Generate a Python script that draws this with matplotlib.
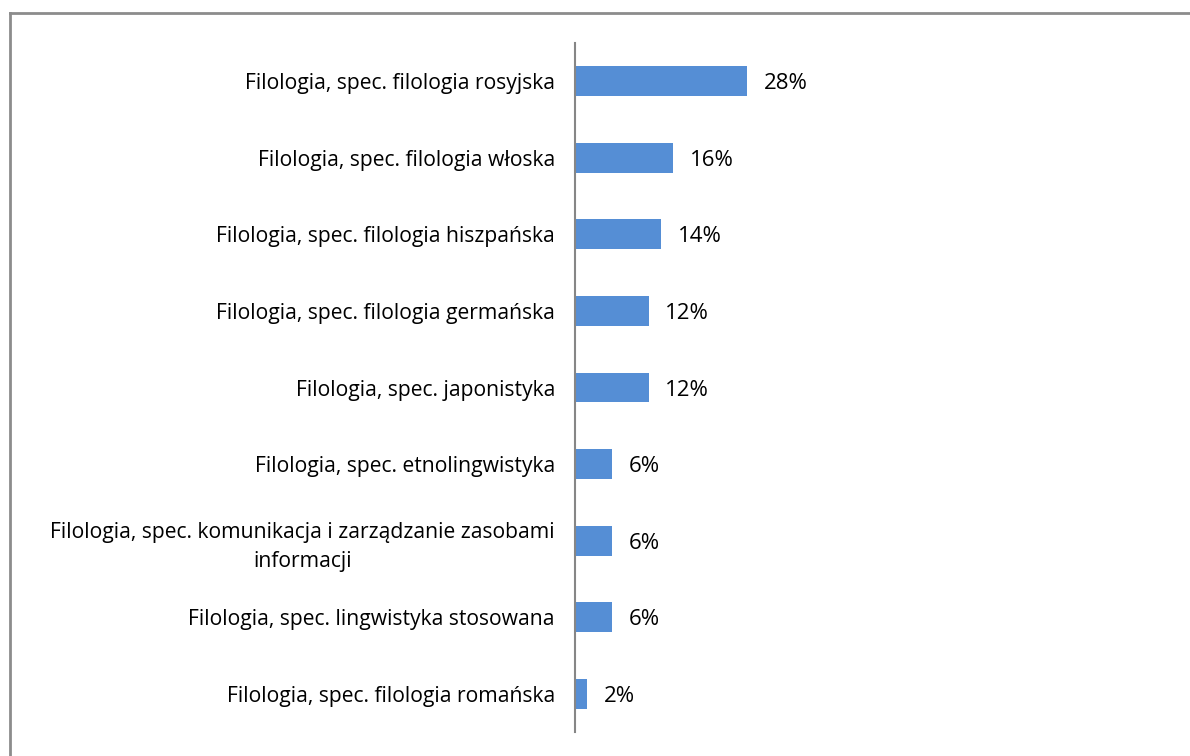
import matplotlib
matplotlib.use("Agg")
import matplotlib.pyplot as plt
from matplotlib.lines import Line2D

categories = [
    "Filologia, spec. filologia rosyjska",
    "Filologia, spec. filologia włoska",
    "Filologia, spec. filologia hiszpańska",
    "Filologia, spec. filologia germańska",
    "Filologia, spec. japonistyka",
    "Filologia, spec. etnolingwistyka",
    "Filologia, spec. komunikacja i zarządzanie zasobami\ninformacji",
    "Filologia, spec. lingwistyka stosowana",
    "Filologia, spec. filologia romańska",
]
values = [28, 16, 14, 12, 12, 6, 6, 6, 2]

plt.rcParams['font.family'] = ['Open Sans', 'DejaVu Sans']

fig = plt.figure(figsize=(11.9, 7.56), dpi=100)
ax = fig.add_axes([575 / 1190, 1 - 732 / 756, 575 / 1190, 689 / 756])

pos = list(range(len(categories)))
ax.barh(pos, values, height=0.39, color='#558ED5')
ax.set_ylim(len(categories) - 0.5, -0.5)
ax.set_xlim(0, 93.5)

for y, v in zip(pos, values):
    ax.text(v + 2.7, y, f"{v}%", va='center_baseline', ha='left', fontsize=16, color='black')

ax.set_yticks(pos)
ax.set_yticklabels(categories, fontsize=15.2)
for lbl in ax.get_yticklabels():
    lbl.set_multialignment('center')
    lbl.set_linespacing(1.5)
ax.tick_params(axis='y', length=0, pad=14.4)
ax.set_xticks([])

for side in ['top', 'right', 'bottom']:
    ax.spines[side].set_visible(False)
ax.spines['left'].set_color('#868686')
ax.spines['left'].set_linewidth(1.5)

# chart border (left and top edges visible)
fig.add_artist(Line2D([9.5 / 1190, 9.5 / 1190], [0, 1 - 13 / 756], color='#8c8c8c', lw=2))
fig.add_artist(Line2D([9.5 / 1190, 1], [1 - 13 / 756, 1 - 13 / 756], color='#8c8c8c', lw=2))

plt.savefig("out.png", dpi=100)
plt.close()
